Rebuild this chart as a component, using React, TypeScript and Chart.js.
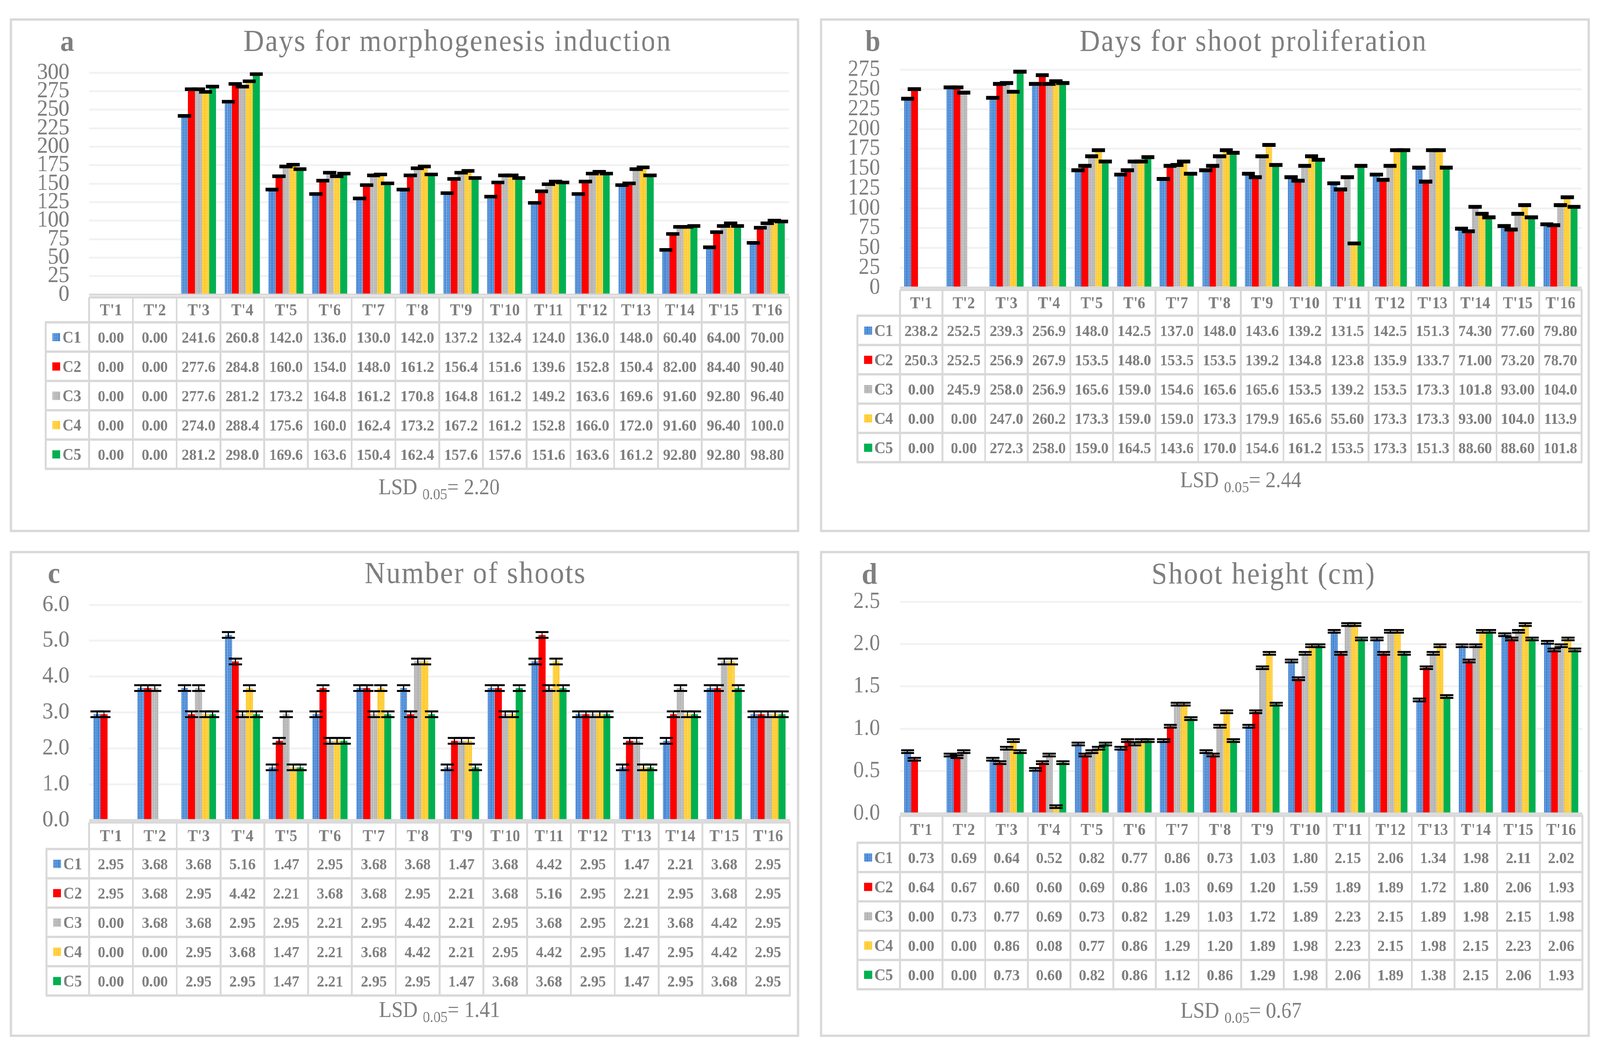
import React, { useEffect, useRef } from 'react';
import { Chart, registerables } from 'chart.js';

Chart.register(...registerables);

// ---------- data ----------
const treatments = ["T'1", "T'2", "T'3", "T'4", "T'5", "T'6", "T'7", "T'8", "T'9", "T'10", "T'11", "T'12", "T'13", "T'14", "T'15", "T'16"];
const classNames = ['C1', 'C2', 'C3', 'C4', 'C5'];

// a: Days for morphogenesis induction
const morphC1 = [0.0, 0.0, 241.6, 260.8, 142.0, 136.0, 130.0, 142.0, 137.2, 132.4, 124.0, 136.0, 148.0, 60.4, 64.0, 70.0];
const morphC2 = [0.0, 0.0, 277.6, 284.8, 160.0, 154.0, 148.0, 161.2, 156.4, 151.6, 139.6, 152.8, 150.4, 82.0, 84.4, 90.4];
const morphC3 = [0.0, 0.0, 277.6, 281.2, 173.2, 164.8, 161.2, 170.8, 164.8, 161.2, 149.2, 163.6, 169.6, 91.6, 92.8, 96.4];
const morphC4 = [0.0, 0.0, 274.0, 288.4, 175.6, 160.0, 162.4, 173.2, 167.2, 161.2, 152.8, 166.0, 172.0, 91.6, 96.4, 100.0];
const morphC5 = [0.0, 0.0, 281.2, 298.0, 169.6, 163.6, 150.4, 162.4, 157.6, 157.6, 151.6, 163.6, 161.2, 92.8, 92.8, 98.8];
const morphTicks = [0, 25, 50, 75, 100, 125, 150, 175, 200, 225, 250, 275, 300];

// b: Days for shoot proliferation
const prolC1 = [238.2, 252.5, 239.3, 256.9, 148.0, 142.5, 137.0, 148.0, 143.6, 139.2, 131.5, 142.5, 151.3, 74.3, 77.6, 79.8];
const prolC2 = [250.3, 252.5, 256.9, 267.9, 153.5, 148.0, 153.5, 153.5, 139.2, 134.8, 123.8, 135.9, 133.7, 71.0, 73.2, 78.7];
const prolC3 = [0.0, 245.9, 258.0, 256.9, 165.6, 159.0, 154.6, 165.6, 165.6, 153.5, 139.2, 153.5, 173.3, 101.8, 93.0, 104.0];
const prolC4 = [0.0, 0.0, 247.0, 260.2, 173.3, 159.0, 159.0, 173.3, 179.9, 165.6, 55.6, 173.3, 173.3, 93.0, 104.0, 113.9];
const prolC5 = [0.0, 0.0, 272.3, 258.0, 159.0, 164.5, 143.6, 170.0, 154.6, 161.2, 153.5, 173.3, 151.3, 88.6, 88.6, 101.8];
const prolTicks = [0, 25, 50, 75, 100, 125, 150, 175, 200, 225, 250, 275];

// c: Number of shoots
const shootsC1 = [2.95, 3.68, 3.68, 5.16, 1.47, 2.95, 3.68, 3.68, 1.47, 3.68, 4.42, 2.95, 1.47, 2.21, 3.68, 2.95];
const shootsC2 = [2.95, 3.68, 2.95, 4.42, 2.21, 3.68, 3.68, 2.95, 2.21, 3.68, 5.16, 2.95, 2.21, 2.95, 3.68, 2.95];
const shootsC3 = [0.0, 3.68, 3.68, 2.95, 2.95, 2.21, 2.95, 4.42, 2.21, 2.95, 3.68, 2.95, 2.21, 3.68, 4.42, 2.95];
const shootsC4 = [0.0, 0.0, 2.95, 3.68, 1.47, 2.21, 3.68, 4.42, 2.21, 2.95, 4.42, 2.95, 1.47, 2.95, 4.42, 2.95];
const shootsC5 = [0.0, 0.0, 2.95, 2.95, 1.47, 2.21, 2.95, 2.95, 1.47, 3.68, 3.68, 2.95, 1.47, 2.95, 3.68, 2.95];
const shootsTicks = [0, 1, 2, 3, 4, 5, 6];

// d: Shoot height (cm)
const heightC1 = [0.73, 0.69, 0.64, 0.52, 0.82, 0.77, 0.86, 0.73, 1.03, 1.8, 2.15, 2.06, 1.34, 1.98, 2.11, 2.02];
const heightC2 = [0.64, 0.67, 0.6, 0.6, 0.69, 0.86, 1.03, 0.69, 1.2, 1.59, 1.89, 1.89, 1.72, 1.8, 2.06, 1.93];
const heightC3 = [0.0, 0.73, 0.77, 0.69, 0.73, 0.82, 1.29, 1.03, 1.72, 1.89, 2.23, 2.15, 1.89, 1.98, 2.15, 1.98];
const heightC4 = [0.0, 0.0, 0.86, 0.08, 0.77, 0.86, 1.29, 1.2, 1.89, 1.98, 2.23, 2.15, 1.98, 2.15, 2.23, 2.06];
const heightC5 = [0.0, 0.0, 0.73, 0.6, 0.82, 0.86, 1.12, 0.86, 1.29, 1.98, 2.06, 1.89, 1.38, 2.15, 2.06, 1.93];
const heightTicks = [0, 0.5, 1.0, 1.5, 2.0, 2.5];

// ---------- styling / layout ----------
const PAGE_W = 4381;
const PAGE_H = 2690;
const SERIF = "'Liberation Serif', 'Times New Roman', serif";
const GRAY_TEXT = '#7f7f7f';
const LINE_GRAY = '#d9d9d9';

type Spec = {
  letter: string;
  title: string;
  lsd: string;
  series: number[][];
  ticks: number[];
  decimals: number;
  err: number;
  box: { x: number; y: number; w: number; h: number };
  plot: { l: number; r: number; t: number; b: number };
  table: { legendL: number; headTop: number; rowTop: number; rowH: number };
  titleCx: number;
  titleBase: number;
  letterCx: number;
  lsdBase: number;
};

const specs: Spec[] = [
  {
    letter: 'a', title: 'Days for morphogenesis induction', lsd: '2.20',
    series: [morphC1, morphC2, morphC3, morphC4, morphC5], ticks: morphTicks, decimals: 0, err: 1.1,
    box: { x: 27, y: 47, w: 2161, h: 1315 },
    plot: { l: 244, r: 2161, t: 186, b: 754 },
    table: { legendL: 125, headTop: 761, rowTop: 825, rowH: 75 },
    titleCx: 1253, titleBase: 130, letterCx: 184, lsdBase: 1265,
  },
  {
    letter: 'b', title: 'Days for shoot proliferation', lsd: '2.44',
    series: [prolC1, prolC2, prolC3, prolC4, prolC5], ticks: prolTicks, decimals: 0, err: 1.2,
    box: { x: 2245, y: 47, w: 2108, h: 1315 },
    plot: { l: 2464, r: 4331, t: 178, b: 736 },
    table: { legendL: 2348, headTop: 742, rowTop: 808, rowH: 75 },
    titleCx: 3432, titleBase: 130, letterCx: 2390, lsdBase: 1247,
  },
  {
    letter: 'c', title: 'Number of shoots', lsd: '1.41',
    series: [shootsC1, shootsC2, shootsC3, shootsC4, shootsC5], ticks: shootsTicks, decimals: 1, err: 0.08,
    box: { x: 27, y: 1410, w: 2161, h: 1244 },
    plot: { l: 244, r: 2163, t: 1548, b: 2099 },
    table: { legendL: 127, headTop: 2105, rowTop: 2173, rowH: 75 },
    titleCx: 1302, titleBase: 1492, letterCx: 148, lsdBase: 2603,
  },
  {
    letter: 'd', title: 'Shoot height (cm)', lsd: '0.67',
    series: [heightC1, heightC2, heightC3, heightC4, heightC5], ticks: heightTicks, decimals: 1, err: 0.016,
    box: { x: 2245, y: 1410, w: 2108, h: 1244 },
    plot: { l: 2464, r: 4333, t: 1540, b: 2082 },
    table: { legendL: 2348, headTop: 2088, rowTop: 2157, rowH: 75 },
    titleCx: 3460, titleBase: 1494, letterCx: 2381, lsdBase: 2605,
  },
];

function makePattern(base: string): CanvasPattern | string {
  const c = document.createElement('canvas');
  c.width = 4;
  c.height = 4;
  const g = c.getContext('2d');
  if (!g) return base;
  g.fillStyle = base;
  g.fillRect(0, 0, 4, 4);
  g.fillStyle = 'rgba(255,255,255,0.9)';
  g.fillRect(1, 1, 2, 2);
  g.fillStyle = 'rgba(255,255,255,0.35)';
  g.fillRect(0, 0, 1, 1);
  const p = g.createPattern(c, 'repeat');
  return p || base;
}

function fmtValue(v: number, decimals: number): string {
  if (decimals === 0) return v >= 100 ? v.toFixed(1) : v.toFixed(2);
  return v.toFixed(2);
}

function buildConfig(spec: Spec, fills: (CanvasPattern | string)[], dpr: number): any {
  const { box, plot } = spec;
  const ox = box.x;
  const oy = box.y;

  const errorBars = {
    id: 'errorBars' + spec.letter,
    afterDatasetsDraw(chart: any) {
      const { ctx } = chart;
      const ys = chart.scales.y;
      ctx.save();
      ctx.strokeStyle = '#000000';
      spec.series.forEach((vals, di) => {
        const meta = chart.getDatasetMeta(di);
        meta.data.forEach((bar: any, i: number) => {
          const v = vals[i];
          if (!(v > 0)) return;
          const x = bar.x;
          const yt = ys.getPixelForValue(v + spec.err);
          const yb = ys.getPixelForValue(v - spec.err);
          const half = 18;
          ctx.lineWidth = 3;
          ctx.beginPath();
          ctx.moveTo(x, yt);
          ctx.lineTo(x, yb);
          ctx.stroke();
          ctx.lineWidth = 5;
          ctx.beginPath();
          ctx.moveTo(x - half, yt);
          ctx.lineTo(x + half, yt);
          ctx.moveTo(x - half, yb);
          ctx.lineTo(x + half, yb);
          ctx.stroke();
        });
      });
      ctx.restore();
    },
  };

  const decor = {
    id: 'decor' + spec.letter,
    beforeDatasetsDraw(chart: any) {
      const { ctx, chartArea } = chart;
      const y0 = chart.scales.y.getPixelForValue(0);
      ctx.save();
      ctx.strokeStyle = LINE_GRAY;
      ctx.lineWidth = 5;
      ctx.beginPath();
      ctx.moveTo(chartArea.left, y0);
      ctx.lineTo(chartArea.right, y0);
      ctx.stroke();
      ctx.restore();
    },
    afterDraw(chart: any) {
      const { ctx, chartArea } = chart;
      const xs = chart.scales.x;
      const n = treatments.length;
      const L = chartArea.left;
      const R = chartArea.right;
      const cw = (R - L) / n;
      const hTop = spec.table.headTop - oy;
      const rTop = spec.table.rowTop - oy;
      const rh = spec.table.rowH;
      const legL = spec.table.legendL - ox;
      const bottom = rTop + rh * classNames.length;

      ctx.save();
      // letter
      ctx.fillStyle = GRAY_TEXT;
      ctx.textAlign = 'center';
      ctx.textBaseline = 'alphabetic';
      ctx.font = `bold 76px ${SERIF}`;
      ctx.fillText(spec.letter, spec.letterCx - ox, spec.titleBase - oy);
      // title
      ctx.font = `78px ${SERIF}`;
      (ctx as any).letterSpacing = '3px';
      ctx.fillText(spec.title, spec.titleCx - ox, spec.titleBase - oy);
      (ctx as any).letterSpacing = '0px';

      // table grid
      ctx.strokeStyle = LINE_GRAY;
      ctx.lineWidth = 6;
      ctx.beginPath();
      ctx.moveTo(L, hTop);
      ctx.lineTo(R + 2, hTop);
      for (let r = 0; r <= classNames.length; r++) {
        ctx.moveTo(legL - 2, rTop + r * rh);
        ctx.lineTo(R + 2, rTop + r * rh);
      }
      ctx.stroke();
      ctx.lineWidth = 5;
      ctx.beginPath();
      ctx.moveTo(legL, rTop);
      ctx.lineTo(legL, bottom);
      for (let i = 0; i <= n; i++) {
        ctx.moveTo(L + i * cw, hTop);
        ctx.lineTo(L + i * cw, bottom);
      }
      ctx.stroke();

      // header
      ctx.fillStyle = GRAY_TEXT;
      ctx.font = `bold 42px ${SERIF}`;
      ctx.textAlign = 'center';
      const hc = (hTop + rTop) / 2;
      treatments.forEach((t, i) => {
        ctx.fillText(t, xs.getPixelForValue(i), hc + 14);
      });

      // rows
      classNames.forEach((name, s) => {
        const rc = rTop + s * rh + rh / 2;
        ctx.fillStyle = fills[s] as any;
        ctx.fillRect(legL + 18, rc - 10, 22, 21);
        ctx.fillStyle = GRAY_TEXT;
        ctx.textAlign = 'left';
        ctx.font = `bold 42px ${SERIF}`;
        ctx.fillText(name, legL + 46, rc + 14);
        ctx.textAlign = 'center';
        ctx.font = `bold 41px ${SERIF}`;
        spec.series[s].forEach((v, i) => {
          ctx.fillText(fmtValue(v, spec.decimals), xs.getPixelForValue(i), rc + 14);
        });
      });

      // LSD text
      const base = spec.lsdBase - oy;
      const mainFont = `56px ${SERIF}`;
      const subFont = `39px ${SERIF}`;
      ctx.textAlign = 'left';
      ctx.font = mainFont;
      const t1 = 'LSD ';
      const t3 = '= ' + spec.lsd;
      const w1 = ctx.measureText(t1).width;
      const w3 = ctx.measureText(t3).width;
      ctx.font = subFont;
      const t2 = '0.05';
      const w2 = ctx.measureText(t2).width;
      const total = w1 + w2 + w3;
      let x = (L + R) / 2 - total / 2;
      ctx.font = mainFont;
      ctx.fillText(t1, x, base);
      x += w1;
      ctx.font = subFont;
      ctx.fillText(t2, x, base + 13);
      x += w2;
      ctx.font = mainFont;
      ctx.fillText(t3, x, base);
      ctx.restore();
    },
  };

  return {
    type: 'bar',
    data: {
      labels: treatments,
      datasets: spec.series.map((vals, i) => ({
        label: classNames[i],
        data: vals,
        backgroundColor: fills[i],
        borderWidth: 0,
        categoryPercentage: 0.8,
        barPercentage: 1.0,
      })),
    },
    options: {
      responsive: false,
      animation: false,
      devicePixelRatio: dpr,
      events: [],
      layout: {
        padding: {
          left: 0,
          top: plot.t - box.y,
          right: box.x + box.w - plot.r,
          bottom: box.y + box.h - plot.b,
        },
      },
      plugins: {
        legend: { display: false },
        tooltip: { enabled: false },
        title: { display: false },
      },
      scales: {
        x: { display: false },
        y: {
          min: spec.ticks[0],
          max: spec.ticks[spec.ticks.length - 1],
          afterFit: (scale: any) => {
            scale.width = plot.l - box.x;
          },
          afterBuildTicks: (scale: any) => {
            scale.ticks = spec.ticks.map((v) => ({ value: v }));
          },
          border: { display: false },
          grid: { color: '#f2f2f2', lineWidth: 5, drawTicks: false },
          ticks: {
            autoSkip: false,
            padding: 54,
            color: GRAY_TEXT,
            font: { family: SERIF, size: 59 },
            callback: (v: any) => Number(v).toFixed(spec.decimals),
          },
        },
      },
    },
    plugins: [decor, errorBars],
  };
}

function Panel({ spec, dpr }: { spec: Spec; dpr: number }) {
  const ref = useRef<HTMLCanvasElement>(null);
  useEffect(() => {
    const canvas = ref.current;
    if (!canvas) return;
    const fills = [
      makePattern('#2370cc'),
      '#ff0000',
      makePattern('#a5a5a5'),
      makePattern('#ffc000'),
      '#00b050',
    ];
    const chart = new Chart(canvas, buildConfig(spec, fills, dpr));
    return () => chart.destroy();
  }, [spec, dpr]);
  const { box } = spec;
  return (
    <>
      <div
        style={{
          position: 'absolute',
          left: box.x,
          top: box.y,
          width: box.w,
          height: box.h,
          border: `6px solid ${LINE_GRAY}`,
          boxSizing: 'border-box',
          background: '#ffffff',
        }}
      />
      <canvas
        ref={ref}
        width={box.w}
        height={box.h}
        style={{ position: 'absolute', left: box.x, top: box.y, width: box.w, height: box.h }}
      />
    </>
  );
}

export default function App() {
  const hasWin = typeof window !== 'undefined';
  const vw = hasWin && window.innerWidth ? window.innerWidth : PAGE_W;
  const vh = hasWin && window.innerHeight ? window.innerHeight : PAGE_H;
  const kx = vw / PAGE_W;
  const ky = vh / PAGE_H;
  const baseDpr = hasWin && window.devicePixelRatio ? window.devicePixelRatio : 1;
  const dpr = Math.max(1, Math.max(kx, ky) * baseDpr);
  return (
    <div
      style={{
        position: 'absolute',
        left: 0,
        top: 0,
        width: vw,
        height: vh,
        overflow: 'hidden',
        background: '#ffffff',
      }}
    >
      <div
        style={{
          position: 'absolute',
          left: 0,
          top: 0,
          width: PAGE_W,
          height: PAGE_H,
          transform: `scale(${kx}, ${ky})`,
          transformOrigin: '0 0',
        }}
      >
        {specs.map((s) => (
          <Panel key={s.letter} spec={s} dpr={dpr} />
        ))}
      </div>
    </div>
  );
}
